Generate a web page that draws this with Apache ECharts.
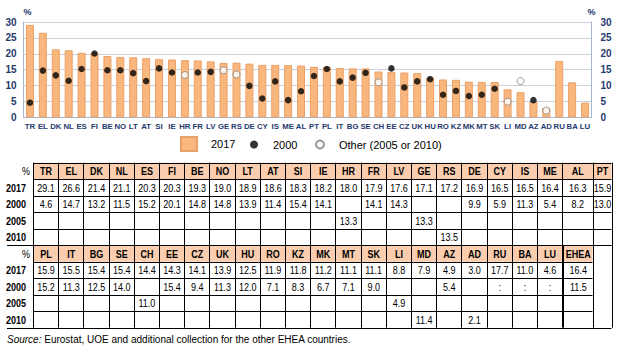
<!DOCTYPE html>
<html>
<head>
<meta charset="utf-8">
<script src="https://cdn.jsdelivr.net/npm/echarts@6/dist/echarts.min.js"></script>
<style>
html,body{margin:0;padding:0;background:#fff;}
#chart{width:623px;height:350px;}
</style>
</head>
<body>
<div id="chart"></div>
<script>
// ---------- DATA ----------
const countries = ['TR','EL','DK','NL','ES','FI','BE','NO','LT','AT','SI','IE','HR','FR','LV','GE','RS','DE','CY','IS','ME','AL','PT',
  'PL','IT','BG','SE','CH','EE','CZ','UK','HU','RO','KZ','MK','MT','SK','LI','MD','AZ','AD','RU','BA','LU'];
const val2017 = [29.1,26.6,21.4,21.1,20.3,20.3,19.3,19.0,18.9,18.6,18.3,18.2,18.0,17.9,17.6,17.1,17.2,16.9,16.5,16.5,16.4,16.3,15.9,
  15.9,15.5,15.4,15.4,14.4,14.3,14.1,13.9,12.5,11.9,11.8,11.2,11.1,11.1,8.8,7.9,4.9,3.0,17.7,11.0,4.6];
const val2000 = [4.6,14.7,13.2,11.5,15.2,20.1,14.8,14.8,13.9,11.4,15.4,14.1,null,14.1,14.3,null,null,9.9,5.9,11.3,5.4,8.2,13.0,
  15.2,11.3,12.5,14.0,null,15.4,9.4,11.3,12.0,7.1,8.3,6.7,7.1,9.0,null,null,5.4,null,':',':',':'];
const val2005 = [null,null,null,null,null,null,null,null,null,null,null,null,13.3,null,null,13.3,null,null,null,null,null,null,null,
  null,null,null,null,11.0,null,null,null,null,null,null,null,null,null,4.9,null,null,null,null,null,null];
const val2010 = [null,null,null,null,null,null,null,null,null,null,null,null,null,null,null,null,13.5,null,null,null,null,null,null,
  null,null,null,null,null,null,null,null,null,null,null,null,null,null,null,11.4,null,2.1,null,null,null];
// open-circle markers as drawn in the chart (2005 or 2010)
const otherMarker = [null,null,null,null,null,null,null,null,null,null,null,null,13.3,null,null,14.8,13.5,null,null,null,null,null,null,
  null,null,null,null,11.0,null,null,null,null,null,null,null,null,null,4.9,11.4,null,2.1,null,null,null];
const eheaLabel = 'EHEA';
const eheaValues = [16.4, 11.5, null, null];
const rowLabels = ['2017','2000','2005','2010'];
const legendNames = ['2017','2000','Other (2005 or 2010)'];
const sourceText = '{i|Source:} Eurostat, UOE and additional collection for the other EHEA countries.';

// ---------- STYLE ----------
const NAVY = '#1F3A6E';
const SANS = '"Liberation Sans",Arial,sans-serif';
const BAR = '#F9B77E', BAR_BORDER = '#E9A068', HEAD = '#F9CDAE';
const NARROW_SCALE = 0.82;

// ---------- TABLE (graphic) ----------
const g = [];
const px = v => Math.round(v) + 0.5;
const colEdges = [];
for (let j = 0; j <= 21; j++) colEdges.push(33 + 25.2 * j);
colEdges.push(592.5, 611.5);
const rowH = 16.5, tableTop = 162.7;
function fmt(v){ if (v === null || v === undefined) return ''; return typeof v === 'number' ? v.toFixed(1) : v; }
function line(x1,y1,x2,y2,w){ g.push({type:'line', shape:{x1,y1,x2,y2}, style:{stroke:'#000', lineWidth:w||1}, silent:true}); }
function txt(t,x,y,align,font){
  if (!t) return;
  g.push({type:'text', x:x, y:y, scaleX:NARROW_SCALE,
    style:{text:t, x:0, y:0, textAlign:align, textVerticalAlign:'middle', align:align, verticalAlign:'middle', font, fill:'#000'}, silent:true});
}

const blocks = [
  {idx: countries.slice(0,23).map((c,i)=>i), ehea:false},
  {idx: countries.slice(23).map((c,i)=>i+23), ehea:true}
];
const rowsVals = [val2017, val2000, val2005, val2010];
blocks.forEach((b, bi) => {
  const top = tableTop + bi * 5 * rowH;
  const ys = []; for (let k = 0; k <= 5; k++) ys.push(top + k * rowH);
  const nCols = b.ehea ? 22 : 23;
  const right = colEdges[nCols];
  g.push({type:'rect', shape:{x:colEdges[0], y:ys[0], width:right-colEdges[0], height:rowH}, style:{fill:HEAD}, silent:true});
  for (let k = 0; k <= 5; k++) {
    const xr = (k === 0 || k === 5) ? colEdges[23] : right;
    const xl = k === 5 ? 7 : colEdges[0];
    line(xl, px(ys[k]), xr, px(ys[k]));
  }
  for (let j = 0; j <= 23; j++) {
    if (j > nCols && !(b.ehea && j === 23)) continue;
    line(px(colEdges[j]), ys[0], px(colEdges[j]), ys[5]);
  }
  if (b.ehea) line(px(colEdges[21]) + 1, ys[0], px(colEdges[21]) + 1, ys[5]);
  txt('%', 30, (ys[0]+ys[1])/2 + 0.5, 'right', '11px ' + SANS);
  rowLabels.forEach((r,k) => txt(r, 6, (ys[k+1]+ys[k+2])/2 + 0.5, 'left', 'bold 11px ' + SANS));
  b.idx.forEach((ci, j) => {
    const cx = (colEdges[j] + colEdges[j+1]) / 2 + 0.5;
    txt(countries[ci], cx, (ys[0]+ys[1])/2 + 0.5, 'center', 'bold 11px ' + SANS);
    rowsVals.forEach((arr, k) => txt(fmt(arr[ci]), cx, (ys[k+1]+ys[k+2])/2 + 0.5, 'center', '11px ' + SANS));
  });
  if (b.ehea) {
    const cx = (colEdges[21] + colEdges[22]) / 2 + 1;
    txt(eheaLabel, cx, (ys[0]+ys[1])/2 + 0.5, 'center', 'bold 11px ' + SANS);
    eheaValues.forEach((v,k) => txt(fmt(v), cx, (ys[k+1]+ys[k+2])/2 + 0.5, 'center', '11px ' + SANS));
  }
});
g.push({type:'text', style:{text:sourceText, x:7, y:339, textVerticalAlign:'middle', verticalAlign:'middle', font:'10px ' + SANS, fill:'#000',
  rich:{i:{fontStyle:'italic', fontSize:10, fontFamily:SANS}}}, silent:true});

// ---------- CHART ----------
const chart = echarts.init(document.getElementById('chart'), null, {renderer:'svg'});
const yAxisCommon = {
  type:'value', min:0, max:30, interval:5,
  axisTick:{show:false},
  axisLine:{show:true, lineStyle:{color:'#A9B5CA', width:1}},
  axisLabel:{color:NAVY, fontWeight:'bold', fontSize:10, fontFamily:SANS},
  nameTextStyle:{color:NAVY, fontWeight:'bold', fontSize:9, fontFamily:SANS},
  name:'%', nameGap:6
};
const legendText = pad => ({fontSize:11, fontFamily:SANS, color:'#000', padding:[0,0,0,pad]});
chart.setOption({
  animation:false,
  grid:{left:23.5, right:31.5, top:22, bottom:232.7, containLabel:false},
  legend:[
    {data:[legendNames[0]], left:180, top:136, padding:0, itemWidth:16, itemHeight:14, icon:'rect', textStyle:legendText(9)},
    {data:[legendNames[1]], left:250, top:139, padding:0, itemWidth:8, itemHeight:8, icon:'circle', textStyle:legendText(10)},
    {data:[legendNames[2]], left:315, top:139, padding:0, itemWidth:8, itemHeight:8, icon:'circle', textStyle:legendText(10)}
  ],
  xAxis:{
    type:'category', data:countries,
    axisTick:{show:false},
    axisLine:{show:true, lineStyle:{color:'#A9B5CA'}},
    axisLabel:{interval:0, color:NAVY, fontWeight:'bold', fontSize:7.8, fontFamily:SANS, margin:5}
  },
  yAxis:[
    Object.assign({}, yAxisCommon, {position:'left', splitLine:{show:true, lineStyle:{color:'#C9D0DE', width:1}},
      axisLabel:Object.assign({}, yAxisCommon.axisLabel, {margin:7}),
      nameTextStyle:Object.assign({}, yAxisCommon.nameTextStyle, {align:'left'})}),
    Object.assign({}, yAxisCommon, {position:'right', splitLine:{show:false},
      axisLabel:Object.assign({}, yAxisCommon.axisLabel, {margin:9}),
      nameTextStyle:Object.assign({}, yAxisCommon.nameTextStyle, {align:'center'})})
  ],
  series:[
    {name:legendNames[0], type:'bar', data:val2017, barWidth:8,
      itemStyle:{color:BAR, borderColor:BAR_BORDER, borderWidth:1}},
    {name:legendNames[1], type:'scatter', data:val2000.map(v => typeof v === 'number' ? v : null),
      symbol:'circle', symbolSize:6.5, itemStyle:{color:'#000'}, z:3},
    {name:legendNames[2], type:'scatter', data:otherMarker,
      symbol:'circle', symbolSize:7, itemStyle:{color:'#fff', borderColor:'#808080', borderWidth:1}, z:3}
  ],
  graphic:g
});
</script>
</body>
</html>
